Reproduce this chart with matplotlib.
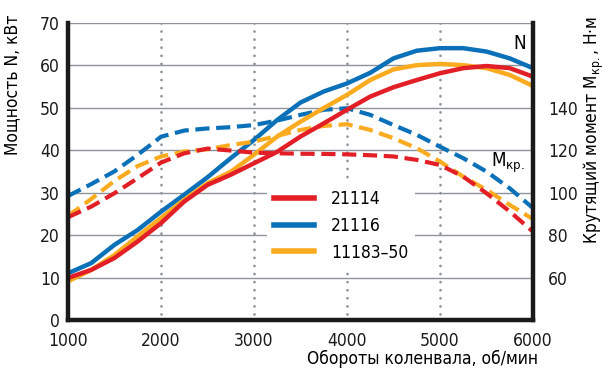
import matplotlib
matplotlib.use("Agg")
import matplotlib.pyplot as plt
from matplotlib.lines import Line2D

plt.rcParams['font.family'] = ['DejaVu Sans']
plt.rcParams['font.stretch'] = 'condensed'

rpm = [1000, 1250, 1500, 1750, 2000, 2250, 2500, 2750, 3000, 3250, 3500,
       3750, 4000, 4250, 4500, 4750, 5000, 5250, 5500, 5750, 6000]

# power, kW
power_21114 = [9.9, 11.8, 14.6, 18.5, 22.8, 27.9, 31.8, 34.2, 36.9, 39.6, 43.2,
               46.3, 49.5, 52.6, 54.8, 56.5, 58.1, 59.3, 59.8, 59.3, 57.3]
power_21116 = [11.0, 13.4, 17.7, 21.2, 25.5, 29.5, 33.6, 38.1, 42.4, 47.1, 51.2,
               53.8, 55.7, 58.2, 61.6, 63.4, 64.0, 64.0, 63.2, 61.6, 59.3]
power_11183 = [9.1, 11.8, 15.3, 19.7, 24.0, 28.3, 32.2, 34.9, 38.9, 43.2, 46.7,
               49.9, 53.0, 56.5, 59.0, 60.0, 60.3, 60.0, 59.3, 57.7, 55.1]

# torque, N*m
torque_21114 = [88.4, 93.4, 99.7, 106.8, 114.1, 118.5, 120.7, 119.8, 118.8, 118.5,
                118.3, 118.2, 118.0, 117.6, 117.0, 115.4, 113.0, 107.5, 99.7,
                91.1, 81.6]
torque_21116 = [98.4, 104.0, 110.0, 117.8, 126.3, 129.2, 130.2, 130.8, 131.8, 133.9,
                136.6, 139.0, 139.7, 136.6, 131.8, 127.2, 121.6, 116.2, 109.9,
                102.0, 92.7]
torque_11183 = [89.0, 97.0, 105.5, 112.5, 117.0, 119.3, 120.4, 122.4, 124.0, 126.7,
                129.5, 131.4, 132.2, 129.5, 125.6, 120.9, 114.6, 107.5, 101.3,
                94.2, 87.5]

names = ["21114", "21116", "11183–50"]
colors = ["#e21f26", "#0a70b8", "#fbab1f"]


def torque_to_power_axis(t):
    # right axis: 60 Nm sits on 10 kW, 140 Nm on 50 kW
    return [(v - 40) / 2 for v in t]


fig = plt.figure(figsize=(6.06, 3.84), dpi=100)
ax = fig.add_axes([0.1122, 0.1667, 0.7673, 0.7742])
ax.set_xlim(1000, 6000)
ax.set_ylim(0, 70)

for y in range(10, 80, 10):
    ax.axhline(y, color="#8e939b", lw=1.0, zorder=1)
for x in [2000, 3000, 4000, 5000]:
    ax.plot([x, x], [1.5, 70], color="#8e939b", lw=2.0, ls=(0, (0.01, 2.9)),
            dash_capstyle="round", zorder=1)

powers = [power_21114, power_21116, power_11183]
torques = [torque_21114, torque_21116, torque_11183]
order = [1, 2, 0]
for i in order:
    ax.plot(rpm, powers[i], color=colors[i], lw=3.2, solid_joinstyle="round",
            zorder=3)
    ax.plot(rpm, torque_to_power_axis(torques[i]), color=colors[i], lw=3.0,
            dashes=(3.4, 1.6), zorder=3)

ax.spines["top"].set_visible(False)
for side in ["left", "bottom", "right"]:
    ax.spines[side].set_linewidth(3.2)
    ax.spines[side].set_color("#1a1a1a")
    ax.spines[side].set_zorder(5)

ax.set_xticks([1000, 2000, 3000, 4000, 5000, 6000])
ax.set_yticks(range(0, 80, 10))
ax.tick_params(axis="x", length=0, labelsize=12.5, pad=9, colors="#1a1a1a")
ax.tick_params(axis="y", length=0, labelsize=12.5, pad=6, colors="#1a1a1a")

ax2 = ax.twinx()
ax2.set_ylim(40, 180)
ax2.set_yticks([60, 80, 100, 120, 140])
ax2.tick_params(length=0, labelsize=12.5, pad=11, colors="#1a1a1a")
for s in ax2.spines.values():
    s.set_visible(False)

ax.set_ylabel("Мощность N, кВт", fontsize=12.5)
ax.yaxis.set_label_coords(-0.1, 0.79)
ax2.set_ylabel("Крутящий момент M$_{\\mathregular{кр.}}$, Н·м", fontsize=12.5)
ax2.yaxis.set_label_coords(1.105, 0.64)
ax.set_xlabel("Обороты коленвала, об/мин", fontsize=12.5)
ax.xaxis.set_label_coords(1.01, -0.1)
ax.xaxis.label.set_ha("right")
ax.xaxis.label.set_va("top")

ax.text(5860, 65.2, "N", fontsize=13.5, ha="center", va="center", zorder=4)
ax.text(5730, 37.0, "M$_{\\mathregular{кр.}}$", fontsize=13.5, ha="center",
        va="center", zorder=4)

handles = [Line2D([], [], color=c, lw=4) for c in colors]
leg = ax.legend(handles, names, loc="upper left", bbox_to_anchor=(0.428, 0.46),
                fontsize=12.5, frameon=True, handlelength=2.3, handletextpad=1.0,
                labelspacing=0.5, borderpad=0.4, borderaxespad=0, fancybox=False)
leg.get_frame().set_edgecolor("none")
leg.get_frame().set_facecolor("white")
leg.get_frame().set_alpha(1)
leg.set_zorder(2)

fig.savefig("out.png", dpi=100)
